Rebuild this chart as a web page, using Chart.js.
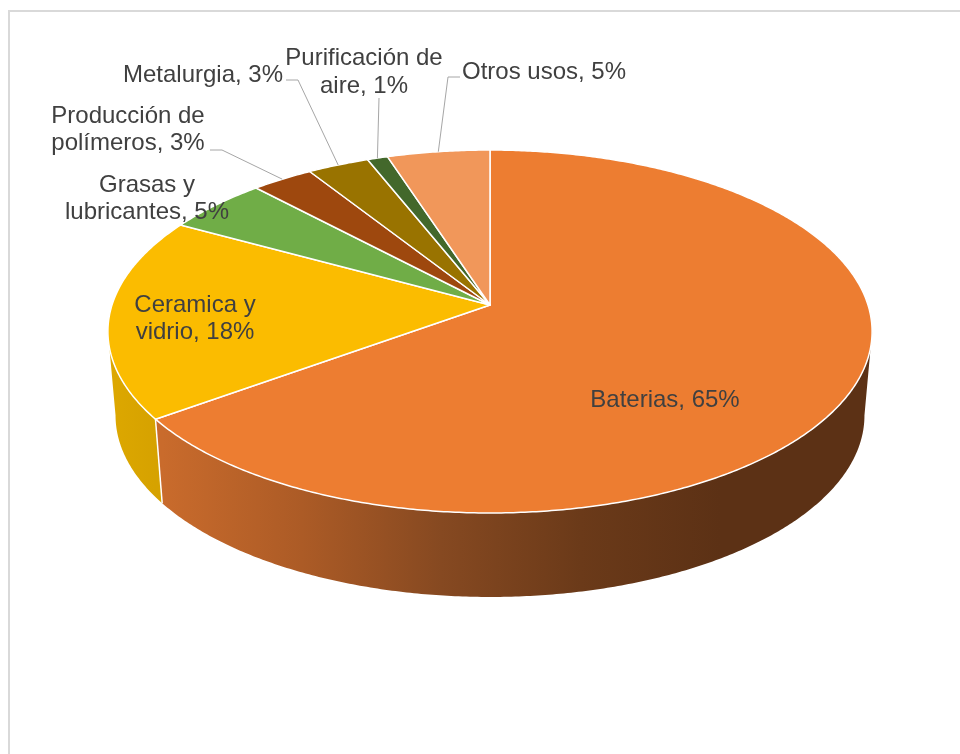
<!DOCTYPE html>
<html>
<head>
<meta charset="utf-8">
<script src="https://cdn.jsdelivr.net/npm/chart.js@4.4.1/dist/chart.umd.min.js"></script>
<style>
  html, body { margin: 0; padding: 0; background: #ffffff; overflow: hidden; }
  canvas { display: block; }
</style>
</head>
<body>
<canvas id="usos" width="960" height="754"></canvas>
<script>
// Usos del litio (participación por aplicación, %)
const categories = [
  'Baterias',
  'Ceramica y vidrio',
  'Grasas y lubricantes',
  'Producción de polímeros',
  'Metalurgia',
  'Purificación de aire',
  'Otros usos'
];
const shares = [65, 18, 5, 3, 3, 1, 5];

// Top-face colours of each slice
const sliceColors = ['#ED7D31', '#FBBC00', '#70AD47', '#9E480E', '#997300', '#43682B', '#F1975A'];
// Side (rim) colours: gradient stops from left to right
const sideColors = [
  ['#C96B2C', '#AC5B26', '#864921', '#6B3A19', '#5C3115'],
  ['#DCA700', '#D6A200'],
  ['#5A8C38', '#4E7A31'],
  ['#7E390B', '#6E320A'],
  ['#7A5C00', '#6B5000'],
  ['#365322', '#2E481D'],
  ['#C87A48', '#B06A3E']
];

// Perspective view of the tilted disc
const view = { a: 378, b: 177.6, k: 0.146, depth: 84, sx: 0.98 };

// Label placement: centre x, first-line baseline, words on first line (0 = single line),
// and optional bend points of the leader line
const labelLayout = [
  { x: 665, y: 407, wrap: 0 },
  { x: 195, y: 311.5, wrap: 2 },
  { x: 147, y: 191.5, wrap: 2 },
  { x: 128, y: 122.5, wrap: 2, leader: [[210, 150], [222, 150]] },
  { x: 203, y: 81.5, wrap: 0, leader: [[286, 80], [298, 80]] },
  { x: 364, y: 65, wrap: 2, leader: [[379, 98]] },
  { x: 544, y: 78.5, wrap: 0, leader: [[460, 77], [448, 77]] }
];
const labelFont = '24px "Liberation Sans", Arial, sans-serif';
const labelColor = '#404040';
const lineGap = 27.5;

function makeProjector(cx, cy) {
  const top = (theta, r = 1) => {
    const u = r * Math.cos(theta), v = r * Math.sin(theta);
    const w = 1 - view.k * v;
    return [cx + view.a * u / w, cy + view.b * v / w];
  };
  const bottom = (theta) => {
    const p = top(theta);
    return [cx + (p[0] - cx) * view.sx, p[1] + view.depth];
  };
  return { top, bottom };
}

function sampleAngles(s, e) {
  const n = Math.max(2, Math.ceil((e - s) / (Math.PI / 360)));
  const out = [];
  for (let i = 0; i <= n; i++) out.push(s + (e - s) * i / n);
  return out;
}

const pie3d = {
  id: 'pie3d',
  beforeDraw(chart) {
    const ctx = chart.ctx;
    ctx.save();
    ctx.fillStyle = '#ffffff';
    ctx.fillRect(0, 0, chart.width, chart.height);
    ctx.strokeStyle = '#D9D9D9';
    ctx.lineWidth = 2;
    ctx.strokeRect(9, 11, 1400, 1400);
    ctx.restore();
  },
  beforeDatasetsDraw(chart) {
    const ctx = chart.ctx;
    const arcs = chart.getDatasetMeta(0).data;
    if (!arcs.length) return false;
    const P = makeProjector(arcs[0].x, arcs[0].y);
    const t1 = Math.asin(view.k), t2 = Math.PI - t1;

    ctx.save();
    // Rim of the disc (front half only)
    arcs.forEach((arc, i) => {
      const s = Math.max(arc.startAngle, t1), e = Math.min(arc.endAngle, t2);
      if (s >= e) return;
      const angles = sampleAngles(s, e);
      ctx.beginPath();
      angles.forEach((t, j) => { const p = P.top(t); j ? ctx.lineTo(p[0], p[1]) : ctx.moveTo(p[0], p[1]); });
      angles.slice().reverse().forEach(t => { const p = P.bottom(t); ctx.lineTo(p[0], p[1]); });
      ctx.closePath();
      const x0 = P.bottom(e)[0], x1 = P.top(s)[0];
      const stops = sideColors[i];
      const g = ctx.createLinearGradient(Math.min(x0, x1), 0, Math.min(Math.max(x0, x1), 720), 0);
      stops.forEach((c, j) => g.addColorStop(stops.length > 1 ? j / (stops.length - 1) : 0, c));
      ctx.fillStyle = g;
      ctx.fill();
    });
    // Seams between rim segments
    ctx.strokeStyle = '#ffffff';
    ctx.lineWidth = 1.5;
    arcs.forEach(arc => {
      const t = arc.startAngle;
      if (t > t1 && t < t2) {
        const a = P.top(t), b = P.bottom(t);
        ctx.beginPath(); ctx.moveTo(a[0], a[1]); ctx.lineTo(b[0], b[1]); ctx.stroke();
      }
    });
    // Top face
    ctx.lineJoin = 'round';
    arcs.forEach((arc, i) => {
      const c = P.top(0, 0);
      ctx.beginPath();
      ctx.moveTo(c[0], c[1]);
      sampleAngles(arc.startAngle, arc.endAngle).forEach(t => { const p = P.top(t); ctx.lineTo(p[0], p[1]); });
      ctx.closePath();
      ctx.fillStyle = sliceColors[i];
      ctx.fill();
      ctx.strokeStyle = '#ffffff';
      ctx.lineWidth = 1.5;
      ctx.stroke();
    });

    // Leader lines and labels
    ctx.font = labelFont;
    ctx.fillStyle = labelColor;
    ctx.textAlign = 'center';
    ctx.textBaseline = 'alphabetic';
    arcs.forEach((arc, i) => {
      const L = labelLayout[i];
      if (L.leader) {
        const mid = (arc.startAngle + arc.endAngle) / 2;
        const end = P.top(mid);
        ctx.beginPath();
        L.leader.forEach((p, j) => j ? ctx.lineTo(p[0], p[1]) : ctx.moveTo(p[0], p[1]));
        ctx.lineTo(end[0], end[1]);
        ctx.strokeStyle = '#A6A6A6';
        ctx.lineWidth = 1;
        ctx.stroke();
      }
      const words = (categories[i] + ', ' + shares[i] + '%').split(' ');
      const lines = L.wrap ? [words.slice(0, L.wrap).join(' '), words.slice(L.wrap).join(' ')] : [words.join(' ')];
      lines.forEach((txt, j) => ctx.fillText(txt, L.x, L.y + j * lineGap));
    });
    ctx.restore();
    return false;
  }
};

new Chart(document.getElementById('usos'), {
  type: 'pie',
  data: {
    labels: categories,
    datasets: [{ data: shares, backgroundColor: sliceColors, borderColor: '#ffffff', borderWidth: 1.5 }]
  },
  options: {
    responsive: false,
    animation: false,
    events: [],
    layout: { padding: { left: 20, right: 0, top: 0, bottom: 144 } },
    plugins: { legend: { display: false }, tooltip: { enabled: false } }
  },
  plugins: [pie3d]
});
</script>
</body>
</html>
